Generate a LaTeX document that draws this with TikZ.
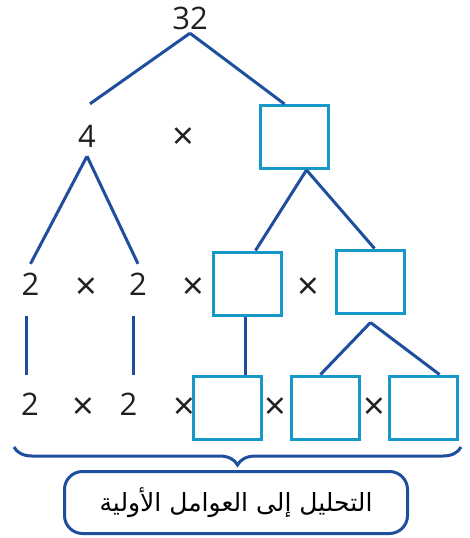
\documentclass[tikz,border=0pt]{standalone}
\usepackage{fontspec}
\setmainfont{Open Sans}
\newfontfamily\arabicfont[Script=Arabic]{DejaVu Sans}
\TeXXeTstate=1
\usepackage{tikz}
\usetikzlibrary{decorations.pathreplacing}
\definecolor{branch}{RGB}{32, 78, 158}
\definecolor{boxline}{RGB}{24, 152, 200}
\definecolor{digit}{RGB}{35, 31, 32}
\newcommand*{\bw}{68}

\begin{document}
\begin{tikzpicture}[
   x=1pt, y=-1pt,
   num/.style={text=digit, inner sep=0, minimum height=40,
               font=\fontsize{31}{33}\selectfont},
   times/.style={text=digit, inner sep=0, yshift=-4,
                 font=\fontsize{38}{40}\selectfont},
   factor/.style={rectangle, draw=boxline, fill=white, line width=3,
                  minimum width=\bw, minimum height=63, inner sep=0},
   caption/.style={rectangle, rounded corners=18, draw=branch, line width=3,
                   minimum width=343, minimum height=62, inner sep=0}
  ]

  \useasboundingbox (0, 0) rectangle (470, 538);

  % Top of the tree
  \node (top) at (190, 18) [num] {32};
  \node (four) at (87, 136) [num] {4};
  \node (t1) at (183, 135) [times] {×};
  \node (b1) at (294.5, 137) [factor] {};

  % Second row
  \node (a2) at (30.5, 284) [num] {2};
  \node (t2) at (86, 285) [times] {×};
  \node (c2) at (138, 284) [num] {2};
  \node (t3) at (193.5, 285) [times] {×};
  \node (b2) at (247.5, 283.5) [factor] {};
  \node (t4) at (308.5, 285) [times] {×};
  \node (b3) at (370.5, 281.5) [factor] {};

  % Third row
  \node (a3) at (30, 404) [num] {2};
  \node (t5) at (83.5, 405) [times] {×};
  \node (c3) at (128.5, 404) [num] {2};
  \node (t6) at (184, 405) [times] {×};
  \node (b4) at (227.5, 407.5) [factor] {};
  \node (t7) at (275.5, 405) [times] {×};
  \node (b5) at (325.5, 407.5) [factor] {};
  \node (t8) at (374.5, 405) [times] {×};
  \node (b6) at (423.5, 407.5) [factor] {};

  % Branches (start/dx/dy/end/dx/dy)
  \foreach \B/\bx/\by/\E/\ex/\ey in {top.south/0/5/four.north/3/12,
                                     top.south/0/5/b1.north/-10/0,
                                     four.south/0/0/a2.north/0/0,
                                     four.south/0/0/c2.north/0/0,
                                     a2.south/-4.5/-12/a3.north/-4/9,
                                     c2.south/-5/-12/c3.north/4.5/9,
                                     b1.south/12/0/b2.north/8/0,
                                     b1.south/12/0/b3.north/4/0,
                                     b3.south/0/-8/b5.north/-5/0,
                                     b3.south/0/-8/b6.north/16/0,
                                     b2.south/-2.5/0/b4.north/17.5/0} {
    \draw[branch, line width=3]
      ([xshift=\bx, yshift=\by]\B) -- ([xshift=\ex, yshift=\ey]\E);
  }

  % Brace and caption
  \coordinate (bl) at (14, 447);
  \coordinate (br) at (461, 447);
  \draw[branch, line width=3, decorate,
        decoration={brace, mirror, amplitude=18}] (bl) -- (br);

  \node (cap) at (236, 502.5) [caption]
        {\arabicfont\fontsize{25}{28}\selectfont\beginR التحليل إلى العوامل الأولية\endR};

\end{tikzpicture}
\end{document}
